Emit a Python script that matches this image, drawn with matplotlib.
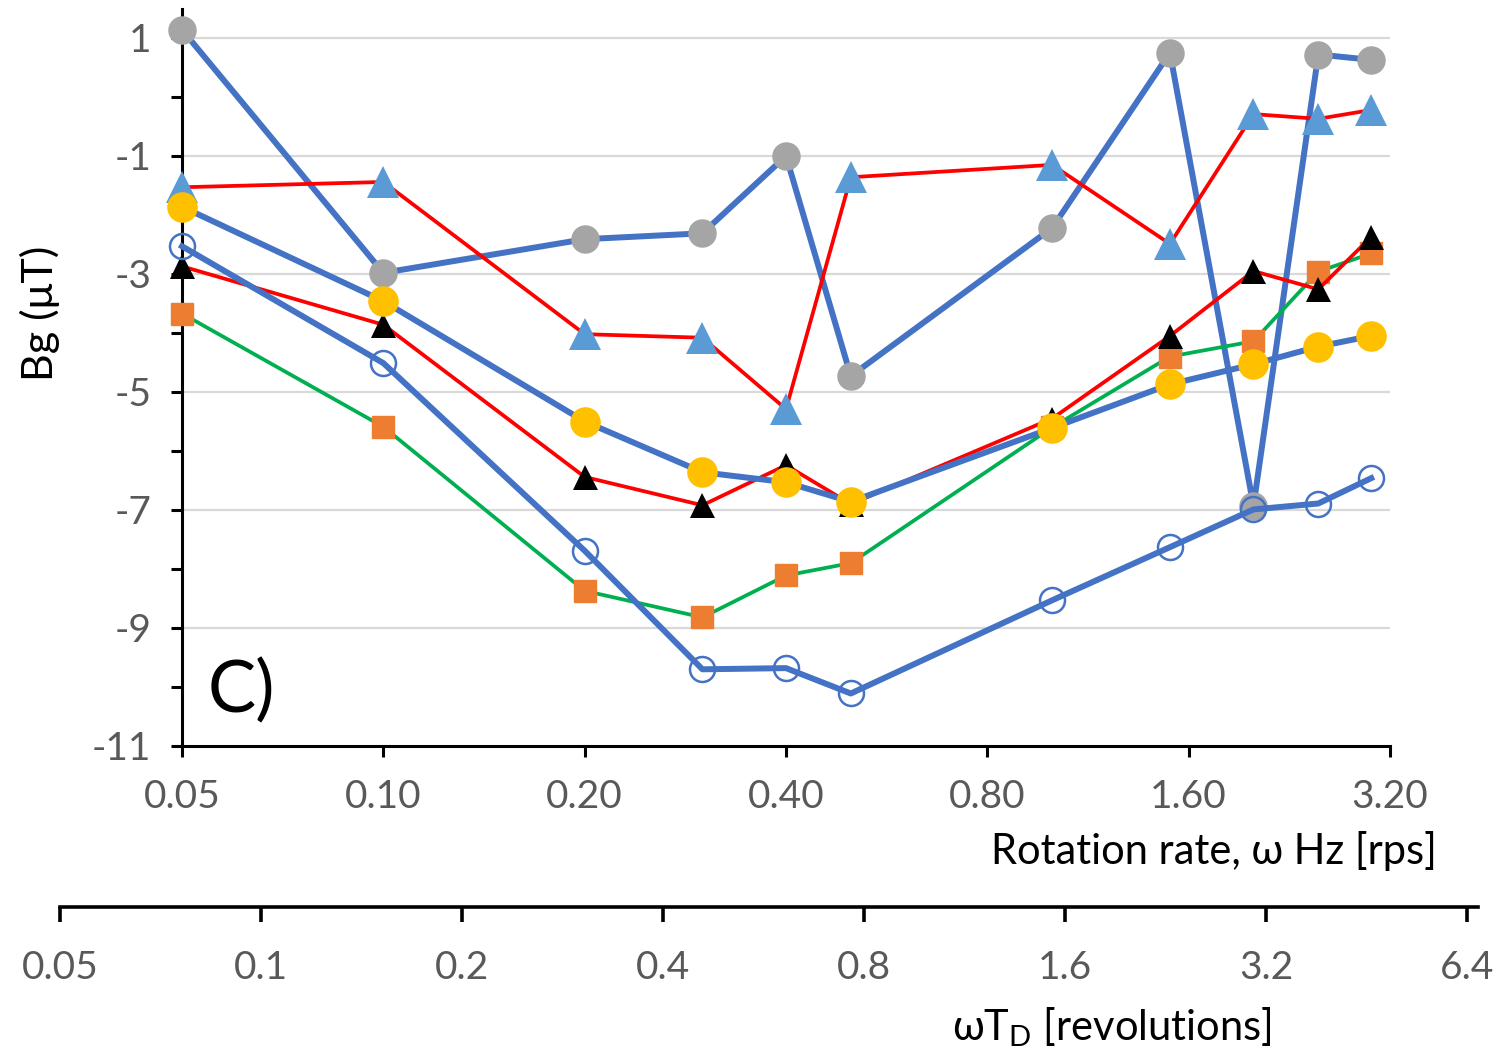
import matplotlib
matplotlib.use("Agg")
import matplotlib.pyplot as plt
from matplotlib.ticker import FixedLocator, NullFormatter, NullLocator

plt.rcParams['font.family'] = ['Lato', 'DejaVu Sans']

# rotation rate (Hz) for every measured point
rate_hz = [0.05, 0.1, 0.2, 0.3, 0.4, 0.5, 1.0, 1.5, 2.0, 2.5, 3.0]

# Bg values (uT)
gray_pts = [1.14, -2.98, -2.41, -2.31, -1.00, -4.73, -2.22, 0.75, -6.93, 0.72, 0.63]
bluetri_pts = [-1.53, -1.44, -4.02, -4.08, -5.29, -1.36, -1.15, -2.49, -0.29, -0.37, -0.22]
orange_pts = [-3.67, -5.59, -8.37, -8.82, -8.11, -7.90, -5.60, -4.40, -4.14, -2.96, -2.65]
blacktri_pts = [-2.87, -3.86, -6.44, -6.92, -6.24, -6.90, -5.45, -4.05, -2.95, -3.26, -2.37]
yellow_pts = [-1.86, -3.46, -5.50, -6.36, -6.53, -6.86, -5.61, -4.87, -4.53, -4.23, -4.05]
open_pts = [-2.53, -4.51, -7.69, -9.70, -9.68, -10.11, -8.53, -7.63, -6.99, -6.89, -6.46]

rate_ticks = [0.05, 0.1, 0.2, 0.4, 0.8, 1.6, 3.2]
rate_labels = ["0.05", "0.10", "0.20", "0.40", "0.80", "1.60", "3.20"]
rev_ticks = [0.05, 0.1, 0.2, 0.4, 0.8, 1.6, 3.2, 6.4]
rev_labels = ["0.05", "0.1", "0.2", "0.4", "0.8", "1.6", "3.2", "6.4"]
y_major = [1, -1, -3, -5, -7, -9, -11]
y_minor = [0, -2, -4, -6, -8, -10]

BLUE = "#4472C4"
RED = "#FF0000"
GREEN = "#00B050"
TICKGRAY = "#595959"

W, H = 1499, 1056
fig = plt.figure(figsize=(W / 100, H / 100), dpi=100)
ax = fig.add_axes([182 / W, (H - 746) / H, (1390 - 182) / W, (746 - 8.5) / H])

ax.plot(rate_hz, gray_pts, color=BLUE, lw=4.3, marker='o', ms=19.5,
        mfc="#A5A5A5", mec="#A5A5A5", clip_on=False, zorder=3)
ax.plot(rate_hz, bluetri_pts, color=RED, lw=2.7, marker='^', ms=23,
        mfc="#5B9BD5", mec="#5B9BD5", mew=0, clip_on=False, zorder=4)
ax.plot(rate_hz, orange_pts, color=GREEN, lw=2.7, marker='s', ms=16,
        mfc="#ED7D31", mec="#ED7D31", clip_on=False, zorder=5)
ax.plot(rate_hz, blacktri_pts, color=RED, lw=2.7, marker='^', ms=18,
        mfc="black", mec="black", mew=0, clip_on=False, zorder=6)
ax.plot(rate_hz, yellow_pts, color=BLUE, lw=4.3, marker='o', ms=21,
        mfc="#FFC000", mec="#FFC000", clip_on=False, zorder=7)
ax.plot(rate_hz, open_pts, color=BLUE, lw=4.3, marker='o', ms=18,
        mfc="none", mec=BLUE, mew=1.8, clip_on=False, zorder=8)

ax.set_xscale('log', base=2)
ax.set_xlim(0.05, 3.2)
ax.set_ylim(-11, 1.5)
ax.xaxis.set_major_locator(FixedLocator(rate_ticks))
ax.xaxis.set_minor_locator(NullLocator())
ax.set_xticklabels(rate_labels)
ax.yaxis.set_major_locator(FixedLocator(y_major))
ax.yaxis.set_minor_locator(FixedLocator(y_minor))
ax.yaxis.set_minor_formatter(NullFormatter())
ax.set_yticklabels([str(v) for v in y_major])

for v in y_major[:-1]:
    ax.axhline(v, color="#D9D9D9", lw=1.6, zorder=1)

for s in ['top', 'right']:
    ax.spines[s].set_visible(False)
for s in ['left', 'bottom']:
    ax.spines[s].set_linewidth(2.2)
    ax.spines[s].set_zorder(2)

ax.tick_params(axis='both', which='both', direction='out', width=2.2,
               length=8, labelsize=28, labelcolor=TICKGRAY, color='black')
ax.tick_params(axis='x', pad=16)
ax.tick_params(axis='y', pad=14)

fig.text(40 / W, 1 - 313 / H, "Bg (\u03bcT)", rotation=90, fontsize=31,
         ha='center', va='center')
fig.text(1437 / W, 1 - 851 / H, "Rotation rate, \u03c9 Hz [rps]", fontsize=30,
         ha='right', va='center')
fig.text(208 / W, 1 - 712 / H, "C)", fontsize=52, ha='left', va='baseline')

# second axis: revolutions during the decay time
ax2 = fig.add_axes([60 / W, (H - 907) / H, (1478 - 60) / W, 0.0001])
ax2.set_xscale('log', base=2)
ax2.set_xlim(0.05, 0.05 * 2 ** (1418 / 201.0))
ax2.xaxis.set_major_locator(FixedLocator(rev_ticks))
ax2.xaxis.set_minor_locator(NullLocator())
ax2.set_xticklabels(rev_labels)
ax2.set_yticks([])
ax2.patch.set_visible(False)
for s in ['top', 'right', 'left']:
    ax2.spines[s].set_visible(False)
ax2.spines['bottom'].set_linewidth(2.6)
ax2.tick_params(axis='x', direction='out', width=2.6, length=11,
                labelsize=28, labelcolor=TICKGRAY, pad=20)

fig.text(952 / W, 1 - 1027 / H, "\u03c9T$_\\mathregular{D}$ [revolutions]",
         fontsize=30, ha='left', va='center')

fig.savefig("out.png", dpi=100)
